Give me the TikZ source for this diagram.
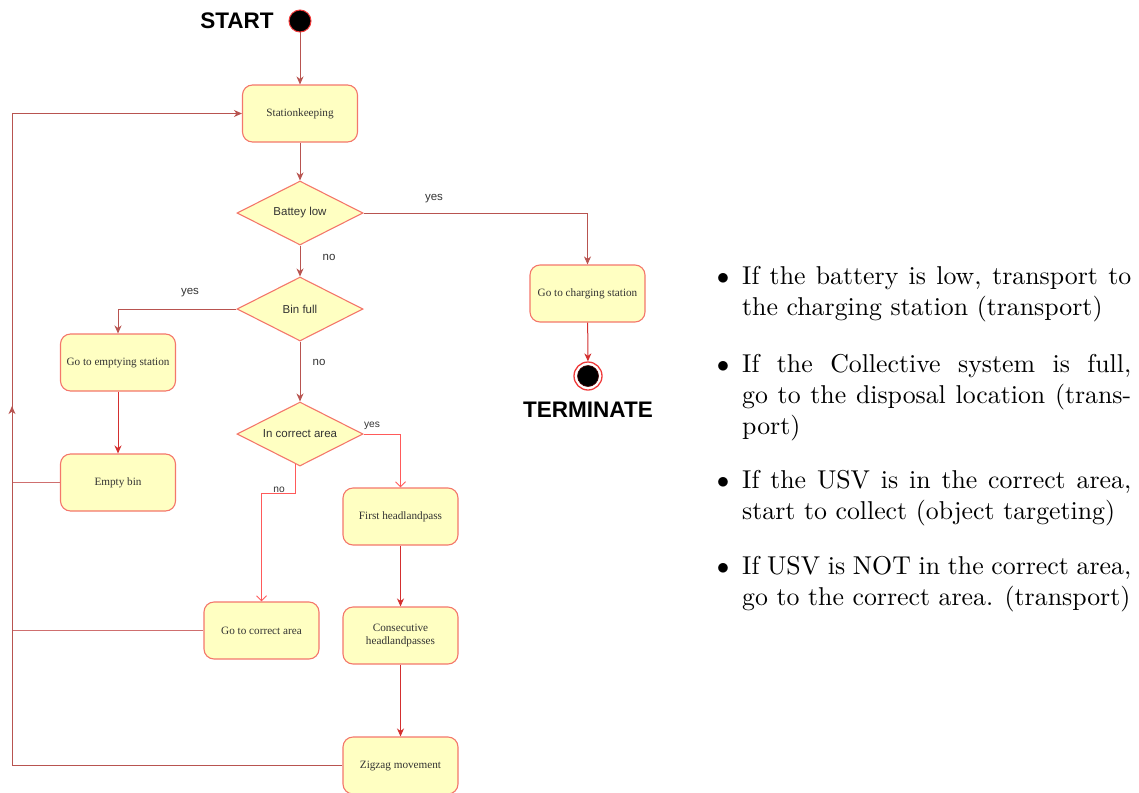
\documentclass[tikz,border=0pt]{standalone}
\usepackage{fontspec}
\usetikzlibrary{shapes.geometric,arrows.meta,decorations.markings}
\newfontfamily\boxfont{Liberation Serif}
\newfontfamily\labfont{Liberation Sans}
\newfontfamily\notefont{lmroman10-regular}[Extension=.otf]
\definecolor{boxfill}{HTML}{FFFFC2}
\definecolor{boxline}{HTML}{F4776B}
\definecolor{boxtext}{HTML}{333333}
\definecolor{linemuted}{HTML}{B85450}
\definecolor{linelight}{HTML}{CF6F6F}
\definecolor{linestrong}{HTML}{D32F2F}
\definecolor{lineopen}{HTML}{FF5A5A}
\definecolor{termred}{HTML}{F03A3A}
\begin{document}
\begin{tikzpicture}[x=1pt,y=-1pt,
  stepbox/.style={rectangle, rounded corners=10pt, draw=boxline, fill=boxfill,
    line width=1.1pt, minimum width=115pt, minimum height=57pt, inner sep=2pt,
    font=\boxfont\fontsize{11.2}{13}\selectfont, text=boxtext, align=center},
  decision/.style={diamond, aspect=1.97, draw=boxline, fill=boxfill,
    line width=1.1pt, minimum width=126pt, minimum height=64pt, inner sep=0pt,
    font=\labfont\fontsize{11.5}{13}\selectfont, text=boxtext},
  tipfull/.tip={Stealth[length=8pt,width=7pt,inset=2.5pt]},
  muted/.style={draw=linemuted, line width=0.9pt, -tipfull},
  strong/.style={draw=linestrong, line width=1pt, -tipfull},
  openline/.style={draw=lineopen, line width=1pt, -{Straight Barb[length=5pt,width=10pt]}},
  loopline/.style={draw=linelight, line width=0.9pt},
  lbl/.style={font=\labfont\fontsize{11.5}{13}\selectfont, text=boxtext, inner sep=0pt},
  smalllbl/.style={font=\labfont\fontsize{10.2}{12}\selectfont, text=boxtext, inner sep=0pt},
  title/.style={font=\labfont\bfseries\fontsize{22.5}{26}\selectfont, text=black, inner sep=0pt},
  item/.style={anchor=base west, text width=389pt, align=justify, inner sep=0pt,
    font=\notefont\fontsize{25.8}{31}\selectfont},
  dot/.style={anchor=base, inner sep=0pt, font=\notefont\fontsize{25.8}{31}\selectfont}
]
\useasboundingbox (0,0) rectangle (1139,792);

% start / terminate markers
\node[title] (starttxt) at (237,21) {START};
\node[circle, fill=black, draw=termred, line width=1pt, minimum size=22pt, inner sep=0pt] (start) at (300,21) {};
\node[circle, draw=termred, line width=1.3pt, minimum size=28pt, inner sep=0pt, fill=white] (term) at (588,376) {};
\node[circle, fill=black, draw=black!70!red, line width=0.6pt, minimum size=21pt, inner sep=0pt] (termdot) at (term) {};
\node[title] (termtxt) at (588,410) {TERMINATE};

% action boxes
\node[stepbox] (stat)    at (300,113.5)   {Stationkeeping};
\node[stepbox] (charge)  at (587.5,293.5) {Go to charging station};
\node[stepbox] (goempty) at (118,362.5)   {Go to emptying station};
\node[stepbox] (empty)   at (118,482.5)   {Empty bin};
\node[stepbox] (first)   at (400.5,516.5) {First headlandpass};
\node[stepbox] (gocorr)  at (261.5,630.5) {Go to correct area};
\node[stepbox] (consec)  at (400.5,635.5) {Consecutive\\headlandpasses};
\node[stepbox] (zig)     at (400.5,765.5) {Zigzag movement};

% decisions
\node[decision] (batt) at (300,213) {Battey low};
\node[decision] (bin)  at (300,309) {Bin full};
\node[decision] (area) at (300,434) {In correct area};

% main flow
\draw[muted] (start) -- (stat);
\draw[muted] (stat) -- (batt);
\draw[muted] (batt.east) -| (charge.north);
\node[lbl] (yes1) at (434,199) {yes};
\draw[muted] (batt) -- (bin);
\node[lbl] (no1) at (329,257) {no};
\draw[muted] (bin.west) -| (goempty.north);
\node[lbl] (yes2) at (190,293) {yes};
\draw[strong] (goempty) -- (empty);
\draw[muted] (bin) -- (area);
\node[lbl] (no2) at (319,362) {no};
\draw[openline] (area.east) -| (first.north);
\node[smalllbl] (yes3) at (372,426) {yes};
\draw[openline] ([xshift=-5pt,yshift=3pt]area.south) -- ++(0,30) -| (gocorr.north);
\node[smalllbl] (no3) at (279,490) {no};
\draw[strong] (charge) -- (term);
\draw[strong] (first) -- (consec);
\draw[strong] (consec) -- (zig);

% return loop to stationkeeping
\coordinate (loopx) at (12,0);
\draw[loopline] (empty.west) -- (empty.west -| loopx);
\draw[loopline] (gocorr.west) -- (gocorr.west -| loopx);
\draw[loopline, draw=linemuted, -tipfull,
  postaction={decorate, decoration={markings,
    mark=at position 0.569 with {\arrow[linemuted]{tipfull}}}}]
  (zig.west) -| (loopx |- stat.west) -- (stat.west);

% notes
\node[dot] (b1) at (723,284.5) {$\bullet$};
\node[item] (t1) at (742,284.5) {If the battery is low, transport to\linebreak the charging station (transport)};
\node[dot] (b2) at (723,372) {$\bullet$};
\node[item] (t2) at (742,372) {If the Collective system is full,\linebreak go to the disposal location (trans-\linebreak port)};
\node[dot] (b3) at (723,488) {$\bullet$};
\node[item] (t3) at (742,488) {If the USV is in the correct area,\linebreak start to collect (object targeting)};
\node[dot] (b4) at (723,574) {$\bullet$};
\node[item] (t4) at (742,574) {If USV is NOT in the correct area,\linebreak go to the correct area. (transport)};
\end{tikzpicture}
\end{document}
